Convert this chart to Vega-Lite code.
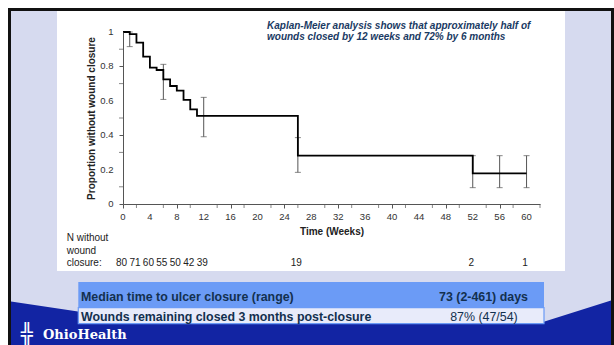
{
  "$schema": "https://vega.github.io/schema/vega-lite/v6.json",
  "width": 417,
  "height": 172,
  "autosize": {"type": "none"},
  "padding": {"left": 123, "top": 32, "right": 74, "bottom": 141},
  "background": "#ffffff",
  "config": {
    "view": {"stroke": null},
    "font": "Liberation Sans",
    "axis": {"zindex": 1, "grid": false, "labels": false, "domainColor": "#555", "tickColor": "#555", "tickSize": 4, "titleFont": "Liberation Sans", "titleFontSize": 10, "titleFontWeight": "bold", "titleColor": "#222"}
  },
  "layer": [
    {
      "data": {"values": [{"x1": -16.875, "x2": 72.78, "y1": 1.1308, "y2": -0.8488}]},
      "mark": {"type": "rect", "clip": false, "fill": "#d6daef", "stroke": "#111111", "strokeWidth": 3},
      "encoding": {
        "x": {"field": "x1", "type": "quantitative", "scale": {"domain": [0, 62], "nice": false, "zero": false}},
        "x2": {"field": "x2"},
        "y": {"field": "y1", "type": "quantitative", "scale": {"domain": [0, 1], "nice": false, "zero": false}},
        "y2": {"field": "y2"}
      }
    },
    {
      "data": {"values": [{"x1": -9.813, "x2": 65.717, "y1": 1.1221, "y2": -0.3895}]},
      "mark": {"type": "rect", "clip": false, "fill": "#ffffff"},
      "encoding": {
        "x": {"field": "x1", "type": "quantitative"},
        "x2": {"field": "x2"},
        "y": {"field": "y1", "type": "quantitative"},
        "y2": {"field": "y2"}
      }
    },
    {
      "data": {"values": [
        {"x": -16.652, "top": -0.5669, "bottom": -0.8488},
        {"x": -6.691, "top": -0.625, "bottom": -0.8488},
        {"x": 26.317, "top": -0.6628, "bottom": -0.8488},
        {"x": 62.446, "top": -0.686, "bottom": -0.8488},
        {"x": 72.556, "top": -0.561, "bottom": -0.8488}
      ]},
      "mark": {"type": "area", "clip": false, "color": "#1224a3", "interpolate": "linear"},
      "encoding": {
        "x": {"field": "x", "type": "quantitative"},
        "y": {"field": "top", "type": "quantitative"},
        "y2": {"field": "bottom"}
      }
    },
    {
      "data": {"values": [{"x1": -6.646, "x2": 62.595, "y1": -0.4535, "y2": -0.6029}]},
      "mark": {"type": "rect", "clip": false, "fill": "#6b9bf6"},
      "encoding": {
        "x": {"field": "x1", "type": "quantitative"},
        "x2": {"field": "x2"},
        "y": {"field": "y1", "type": "quantitative"},
        "y2": {"field": "y2"}
      }
    },
    {
      "data": {"values": [{"x1": -6.646, "x2": 62.595, "y1": -0.6029, "y2": -0.6959}]},
      "mark": {"type": "rect", "clip": false, "fill": "#e8ebfa", "stroke": "#6b9bf6", "strokeWidth": 1.2},
      "encoding": {
        "x": {"field": "x1", "type": "quantitative"},
        "x2": {"field": "x2"},
        "y": {"field": "y1", "type": "quantitative"},
        "y2": {"field": "y2"}
      }
    },
    {
      "data": {"values": [
        {"x": -6.245, "y": -0.539, "text": "Median time to ulcer closure (range)"},
        {"x": -6.245, "y": -0.6552, "text": "Wounds remaining closed 3 months post-closure"}
      ]},
      "mark": {"type": "text", "clip": false, "align": "left", "baseline": "middle", "fontSize": 12.4, "fontWeight": "bold", "color": "#13304f"},
      "encoding": {
        "x": {"field": "x", "type": "quantitative"},
        "y": {"field": "y", "type": "quantitative"},
        "text": {"field": "text", "type": "nominal"}
      }
    },
    {
      "data": {"values": [{"x": 53.6, "y": -0.539, "text": "73 (2-461) days"}]},
      "mark": {"type": "text", "clip": false, "align": "center", "baseline": "middle", "fontSize": 12.4, "fontWeight": "bold", "color": "#13304f"},
      "encoding": {
        "x": {"field": "x", "type": "quantitative"},
        "y": {"field": "y", "type": "quantitative"},
        "text": {"field": "text", "type": "nominal"}
      }
    },
    {
      "data": {"values": [{"x": 53.67, "y": -0.6552, "text": "87% (47/54)"}]},
      "mark": {"type": "text", "clip": false, "align": "center", "baseline": "middle", "fontSize": 12.4, "color": "#13304f"},
      "encoding": {
        "x": {"field": "x", "type": "quantitative"},
        "y": {"field": "y", "type": "quantitative"},
        "text": {"field": "text", "type": "nominal"}
      }
    },
    {
      "data": {"values": [{"x": -11.894, "y": -0.7616, "text": "OhioHealth"}]},
      "mark": {"type": "text", "clip": false, "align": "left", "baseline": "middle", "fontSize": 13, "fontWeight": "bold", "font": "DejaVu Serif", "color": "#ffffff"},
      "encoding": {
        "x": {"field": "x", "type": "quantitative"},
        "y": {"field": "y", "type": "quantitative"},
        "text": {"field": "text", "type": "nominal"}
      }
    },
    {
      "data": {"values": [{"x": -14.27, "y": -0.7616, "text": "╬"}]},
      "mark": {"type": "text", "clip": false, "align": "center", "baseline": "middle", "fontSize": 20, "font": "DejaVu Sans", "color": "#ffffff"},
      "encoding": {
        "x": {"field": "x", "type": "quantitative"},
        "y": {"field": "y", "type": "quantitative"},
        "text": {"field": "text", "type": "nominal"}
      }
    },
    {
      "data": {"values": [
        {"x": -8.371, "y": -0.1994, "text": "N without"},
        {"x": -8.371, "y": -0.2733, "text": "wound"},
        {"x": -8.371, "y": -0.3413, "text": "closure:"}
      ]},
      "mark": {"type": "text", "clip": false, "align": "left", "baseline": "middle", "fontSize": 10, "color": "#222222"},
      "encoding": {
        "x": {"field": "x", "type": "quantitative"},
        "y": {"field": "y", "type": "quantitative"},
        "text": {"field": "text", "type": "nominal"}
      }
    },
    {
      "data": {"values": [
        {"week": 0, "n": 80}, {"week": 2, "n": 71}, {"week": 4, "n": 60},
        {"week": 6, "n": 55}, {"week": 8, "n": 50}, {"week": 10, "n": 42},
        {"week": 12, "n": 39}, {"week": 26, "n": 19}, {"week": 52, "n": 2},
        {"week": 60, "n": 1}
      ]},
      "mark": {"type": "text", "clip": false, "align": "center", "baseline": "middle", "fontSize": 10, "color": "#222222", "dx": -1.5},
      "encoding": {
        "x": {"field": "week", "type": "quantitative"},
        "y": {"datum": -0.3413, "type": "quantitative"},
        "text": {"field": "n", "type": "quantitative"}
      }
    },
    {
      "data": {"values": [
        {"x": 21.41, "y": 1.0349, "text": "Kaplan-Meier analysis shows that approximately half of"},
        {"x": 21.41, "y": 0.9738, "text": "wounds closed by 12 weeks and 72% by 6 months"}
      ]},
      "mark": {"type": "text", "clip": false, "align": "left", "baseline": "middle", "fontSize": 10, "fontWeight": "bold", "fontStyle": "italic", "color": "#1a3a63"},
      "encoding": {
        "x": {"field": "x", "type": "quantitative"},
        "y": {"field": "y", "type": "quantitative"},
        "text": {"field": "text", "type": "nominal"}
      }
    },
    {
      "data": {"values": [
        {"week": 2}, {"week": 6}, {"week": 10}, {"week": 14}, {"week": 18}, {"week": 22},
        {"week": 26}, {"week": 30}, {"week": 34}, {"week": 38}, {"week": 42}, {"week": 46},
        {"week": 50}, {"week": 54}, {"week": 58}, {"week": 62}
      ]},
      "mark": {"type": "tick", "orient": "vertical", "clip": false, "color": "#555555", "size": 4, "thickness": 1, "yOffset": 2},
      "encoding": {
        "x": {"field": "week", "type": "quantitative"},
        "y": {"datum": 0, "type": "quantitative"}
      }
    },
    {
      "data": {"values": [
        {"p": 0.1}, {"p": 0.3}, {"p": 0.5}, {"p": 0.7}, {"p": 0.9}
      ]},
      "mark": {"type": "tick", "orient": "horizontal", "clip": false, "color": "#555555", "size": 4, "thickness": 1, "xOffset": -2},
      "encoding": {
        "x": {"datum": 0, "type": "quantitative"},
        "y": {"field": "p", "type": "quantitative"}
      }
    },
    {
      "data": {"values": [
        {"tick": 0}, {"tick": 4}, {"tick": 8}, {"tick": 12}, {"tick": 16}, {"tick": 20},
        {"tick": 24}, {"tick": 28}, {"tick": 32}, {"tick": 36}, {"tick": 40}, {"tick": 44},
        {"tick": 48}, {"tick": 52}, {"tick": 56}, {"tick": 60}
      ]},
      "mark": {"type": "text", "clip": false, "align": "center", "baseline": "middle", "fontSize": 9.5, "color": "#333333", "dy": 12.5},
      "encoding": {
        "x": {"field": "tick", "type": "quantitative"},
        "y": {"datum": 0, "type": "quantitative"},
        "text": {"field": "tick", "type": "quantitative", "format": "~g"}
      }
    },
    {
      "data": {"values": [
        {"tick": 0}, {"tick": 0.2}, {"tick": 0.4}, {"tick": 0.6}, {"tick": 0.8}, {"tick": 1}
      ]},
      "mark": {"type": "text", "clip": false, "align": "right", "baseline": "middle", "fontSize": 9.5, "color": "#333333", "dx": -9.5},
      "encoding": {
        "x": {"datum": 0, "type": "quantitative"},
        "y": {"field": "tick", "type": "quantitative"},
        "text": {"field": "tick", "type": "quantitative", "format": "~g"}
      }
    },
    {
      "data": {"values": [
        {"week": 1, "lo": 0.915, "hi": 1.0},
        {"week": 6, "lo": 0.608, "hi": 0.812},
        {"week": 12, "lo": 0.391, "hi": 0.62},
        {"week": 26, "lo": 0.184, "hi": 0.386},
        {"week": 52, "lo": 0.095, "hi": 0.281},
        {"week": 56, "lo": 0.095, "hi": 0.281},
        {"week": 60, "lo": 0.095, "hi": 0.281}
      ]},
      "layer": [
        {
          "mark": {"type": "rule", "color": "#555555", "strokeWidth": 1},
          "encoding": {
            "x": {"field": "week", "type": "quantitative"},
            "y": {"field": "lo", "type": "quantitative"},
            "y2": {"field": "hi"}
          }
        },
        {
          "mark": {"type": "tick", "orient": "horizontal", "color": "#555555", "size": 6, "thickness": 1},
          "encoding": {
            "x": {"field": "week", "type": "quantitative"},
            "y": {"field": "lo", "type": "quantitative"}
          }
        },
        {
          "mark": {"type": "tick", "orient": "horizontal", "color": "#555555", "size": 6, "thickness": 1},
          "encoding": {
            "x": {"field": "week", "type": "quantitative"},
            "y": {"field": "hi", "type": "quantitative"}
          }
        }
      ]
    },
    {
      "data": {"values": [
        {"week": 0, "surv": 1.0}, {"week": 1, "surv": 0.988}, {"week": 2, "surv": 0.938},
        {"week": 3, "surv": 0.857}, {"week": 4, "surv": 0.793}, {"week": 5, "surv": 0.779},
        {"week": 6, "surv": 0.725}, {"week": 7, "surv": 0.686}, {"week": 8, "surv": 0.659},
        {"week": 9, "surv": 0.605}, {"week": 10, "surv": 0.55}, {"week": 11, "surv": 0.512},
        {"week": 26, "surv": 0.281}, {"week": 52, "surv": 0.178}, {"week": 60, "surv": 0.178}
      ]},
      "mark": {"type": "line", "interpolate": "step-after", "color": "#000000", "strokeWidth": 1.8},
      "encoding": {
        "x": {"field": "week", "type": "quantitative",
          "axis": {"zindex": 2, "labels": false, "title": "Time (Weeks)", "values": [0,4,8,12,16,20,24,28,32,36,40,44,48,52,56,60], "titlePadding": 18}},
        "y": {"field": "surv", "type": "quantitative",
          "axis": {"zindex": 2, "labels": false, "title": "Proportion without wound closure", "values": [0,0.2,0.4,0.6,0.8,1], "titlePadding": 22}}
      }
    }
  ]
}
